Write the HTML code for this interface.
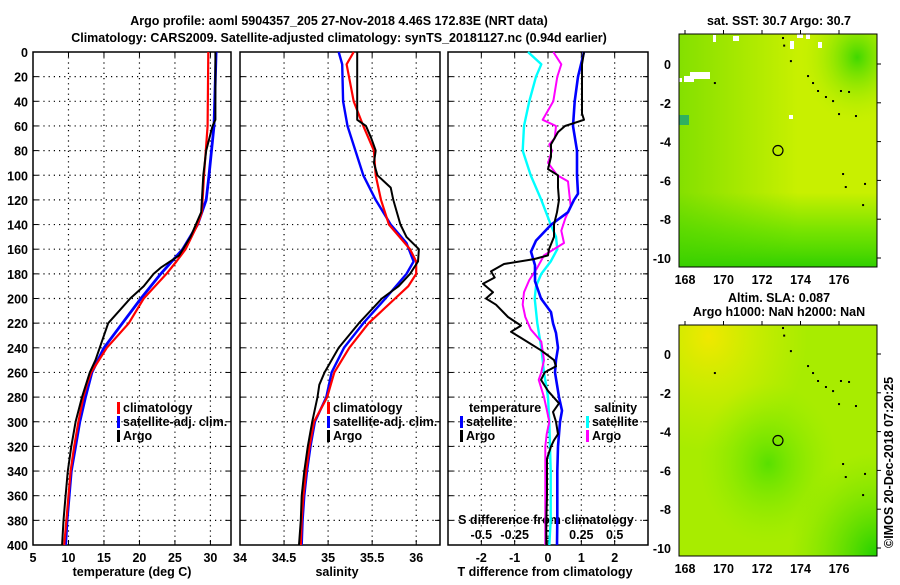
<!DOCTYPE html>
<html><head><meta charset="utf-8"><style>
body{margin:0;background:#fff;width:900px;height:580px;overflow:hidden;font-family:"Liberation Sans",sans-serif;}
svg text{font-family:"Liberation Sans",sans-serif;font-weight:bold;font-size:12.5px;fill:#000;}
</style></head><body>
<svg id="c" width="900" height="580" xmlns="http://www.w3.org/2000/svg">
<defs>
<linearGradient id="g1" x1="0" y1="0" x2="0" y2="1"><stop offset="0.68" stop-color="#60e000" stop-opacity="0"/><stop offset="0.85" stop-color="#60e000" stop-opacity="0.8"/><stop offset="1" stop-color="#30d000"/></linearGradient>
<radialGradient id="g2" cx="0.9" cy="0.1" r="0.3"><stop offset="0" stop-color="#40d800"/><stop offset="1" stop-color="#c8f000" stop-opacity="0"/></radialGradient>
<linearGradient id="g3" x1="0" y1="0" x2="1" y2="0"><stop offset="0" stop-color="#40d000" stop-opacity="0.5"/><stop offset="0.6" stop-color="#40d000" stop-opacity="0"/></linearGradient>
<radialGradient id="h1" cx="0.15" cy="0.05" r="0.5"><stop offset="0" stop-color="#f0e800"/><stop offset="1" stop-color="#d8f000" stop-opacity="0"/></radialGradient>
<radialGradient id="h2" cx="1" cy="1" r="0.45"><stop offset="0" stop-color="#20d000"/><stop offset="1" stop-color="#70e400" stop-opacity="0"/></radialGradient>
<radialGradient id="h3" cx="0.45" cy="0.6" r="0.35"><stop offset="0" stop-color="#58e000"/><stop offset="1" stop-color="#90ec00" stop-opacity="0"/></radialGradient>
</defs>
<g id="root"></g>
</svg>
<script>
// ---- data ----
const tDepthClim=[0,60,100,130,140,160,170,180,200,220,240,260,270,280,300,320,340,360,380,400];
const tClim=[29.7,29.6,29.1,28.8,28.2,26.5,25.2,23.8,20.6,18.5,15.4,13.2,12.6,12.1,11.4,10.8,10.3,10.0,9.7,9.4];
const tDepthSat=[0,60,100,120,140,160,180,200,220,240,260,280,300,320,340,360,380,400];
const tSat=[30.8,30.5,29.8,29.4,28.2,26.1,23.0,20.2,17.6,15.0,13.3,12.4,11.6,11.0,10.4,10.1,9.8,9.6];
const tDepthArgo=[0,55,60,80,100,130,150,165,175,180,190,200,220,240,250,260,280,300,320,340,360,380,400];
const tArgo=[30.7,30.7,30.3,29.4,29.0,28.7,27.2,25.6,23.0,22.0,20.6,18.7,15.6,14.4,13.8,13.0,11.9,11.0,10.4,9.9,9.6,9.3,9.1];

const sDepthClim=[0,10,40,60,80,100,120,140,160,170,180,190,200,220,240,260,280,300,320,340,360,380,400];
const sClim=[35.29,35.21,35.29,35.40,35.52,35.54,35.60,35.69,35.93,36.00,36.00,35.91,35.76,35.46,35.24,35.07,34.99,34.84,34.79,34.75,34.72,34.70,34.69];
const sDepthSat=[0,10,40,60,80,100,120,140,155,170,180,200,220,240,260,280,300,320,340,360,380,400];
const sSat=[35.12,35.16,35.17,35.22,35.31,35.40,35.54,35.71,35.89,35.97,35.89,35.65,35.40,35.18,35.04,34.98,34.85,34.80,34.76,34.73,34.71,34.70];
const sDepthArgo=[0,50,55,60,70,80,90,100,110,120,140,150,160,170,180,190,200,220,240,260,270,280,300,320,340,360,380,400];
const sArgo=[35.33,35.33,35.33,35.43,35.49,35.54,35.52,35.56,35.71,35.74,35.82,35.89,36.03,36.02,35.93,35.80,35.61,35.35,35.12,34.96,34.90,34.88,34.82,34.77,34.73,34.70,34.69,34.67];

const dTSatDepth=[0,20,40,60,80,100,115,120,130,140,153,162,173,186,200,211,220,228,240,250,260,270,280,291,300,320,340,360,380,400];
const dTSat=[1.08,0.9,0.8,0.75,0.87,0.87,0.9,0.78,0.6,0.1,-0.36,-0.51,-0.39,-0.39,-0.21,0.09,0.15,0.24,0.3,0.24,0.21,0.27,0.33,0.42,0.36,0.3,0.28,0.28,0.28,0.27];
const dTArgoDepth=[0,10,50,55,60,65,75,85,95,100,110,120,130,140,150,160,165,168,172,178,183,188,195,200,205,215,222,227,232,242,250,255,260,266,275,285,292,300,310,315,320,330,340,360,380,400];
const dTArgo=[1.08,1.02,1.02,1.08,0.51,0.3,0.09,0.09,0.0,0.3,0.3,0.33,0.27,0.18,0.18,0.03,0.0,-0.42,-1.32,-1.71,-1.6,-1.95,-1.65,-1.86,-1.56,-1.2,-0.81,-1.11,-0.81,-0.21,0.18,0.24,-0.1,-0.21,0.0,0.33,0.15,0.24,0.3,0.18,0.09,-0.03,-0.03,-0.03,-0.05,-0.05];
const dSSatDepth=[0,10,20,40,60,80,100,120,140,150,160,170,180,190,200,220,240,260,280,300,320,340,360,380,400];
const dSSat=[-0.15,-0.05,-0.09,-0.14,-0.18,-0.19,-0.13,-0.05,0.02,0.06,0.07,0.02,-0.05,-0.09,-0.1,-0.08,-0.05,-0.03,0.0,0.01,0.015,0.02,0.02,0.02,0.01];
const dSArgoDepth=[0,10,20,40,55,60,70,75,80,90,100,105,115,125,135,145,155,165,175,185,195,205,215,225,235,250,260,266,280,290,300,310,320,340,360,380,400];
const dSArgo=[0.04,0.1,0.07,0.04,-0.04,0.06,0.05,0.01,0.03,0.0,0.07,0.15,0.16,0.17,0.13,0.1,0.12,-0.03,-0.08,-0.14,-0.18,-0.19,-0.17,-0.13,-0.05,-0.03,-0.05,-0.07,-0.03,-0.01,0.01,-0.01,-0.02,-0.02,-0.02,-0.02,-0.02];

const depthTicks=[0,20,40,60,80,100,120,140,160,180,200,220,240,260,280,300,320,340,360,380,400];
const tTicks=[5,10,15,20,25,30];
const sTicks=[34,34.5,35,35.5,36];
const sTickLabels=["34","34.5","35","35.5","36"];
const dTTicks=[-2,-1,0,1,2];
const dSTicks=[-0.5,-0.25,0,0.25,0.5];
const dSTickLabels=["-0.5","-0.25","0","0.25","0.5"];
const lonTicks=[168,170,172,174,176];
const latTicks=[0,-2,-4,-6,-8,-10];
const argoLon=172.83, argoLat=-4.46;
const coastLon=[173.45,174.34,174.6,174.86,175.27,175.64,176.05,176.47,176.83,175.95,176.16,176.3,177.3,177.2,169.5,173.04,173.1];
const coastLat=[0.2,-0.57,-0.93,-1.34,-1.65,-1.86,-1.34,-1.39,-2.63,-2.53,-5.62,-6.29,-6.13,-7.22,-0.93,1.39,1.0];

// ---- helpers ----
const NS="http://www.w3.org/2000/svg";
const root=document.getElementById('root');
function el(tag,attrs,parent){const e=document.createElementNS(NS,tag);for(const k in attrs)e.setAttribute(k,attrs[k]);(parent||root).appendChild(e);return e;}
function txt(x,y,s,anchor,name,parent,extra){const t=el('text',Object.assign({x:x,y:y,'text-anchor':anchor||'start'},extra||{}),parent);t.textContent=s;return t;}

const PY0=52,PY1=545;
const yD=d=>PY0+(d/400)*(PY1-PY0);
const panels=[
 {x0:33,x1:231,v0:5,v1:32.9,name:'temperature-panel'},
 {x0:240,x1:440,v0:34,v1:36.27,name:'salinity-panel'},
 {x0:448,x1:648,v0:-3,v1:3,name:'difference-panel'}
];
function sx(p,v){return p.x0+(v-p.v0)/(p.v1-p.v0)*(p.x1-p.x0);}

txt(339,25,'Argo profile: aoml 5904357_205 27-Nov-2018 4.46S 172.83E (NRT data)','middle','title-line-1',null,{'font-size':'13.5px'});
txt(339,42,'Climatology: CARS2009. Satellite-adjusted climatology: synTS_20181127.nc (0.94d earlier)','middle','title-line-2',null,{'font-size':'13.5px'});

function frame(p,xt,xtl){
 const g=el('g',{});
 depthTicks.forEach(d=>{if(d>0&&d<400){const l=el('line',{x1:p.x0,x2:p.x1,y1:yD(d),y2:yD(d),stroke:'#000','stroke-width':1.2,'stroke-dasharray':'1.2,4'},g);}
   el('line',{x1:p.x0,x2:p.x0+5,y1:yD(d),y2:yD(d),stroke:'#000'},g);el('line',{x1:p.x1,x2:p.x1-5,y1:yD(d),y2:yD(d),stroke:'#000'},g);});
 xt.forEach((v,i)=>{const x=sx(p,v);if(x>p.x0+1&&x<p.x1-1){const l=el('line',{x1:x,x2:x,y1:PY0,y2:PY1,stroke:'#000','stroke-width':1.2,'stroke-dasharray':'1.2,4'},g);}
   el('line',{x1:x,x2:x,y1:PY1,y2:PY1-5,stroke:'#000'},g);el('line',{x1:x,x2:x,y1:PY0,y2:PY0+5,stroke:'#000'},g);
   if(xtl)txt(x,562,xtl[i],'middle','x-tick-label',g);});
 const r=el('rect',{x:p.x0,y:PY0,width:p.x1-p.x0,height:PY1-PY0,fill:'none',stroke:'#000','stroke-width':1.5},g);
 
 return g;
}
function line(p,vals,depths,color,w,name,scale){
 const pts=vals.map((v,i)=>sx(p,v*(scale||1)).toFixed(1)+','+yD(depths[i]).toFixed(1)).join(' ');
 const l=el('polyline',{points:pts,fill:'none',stroke:color,'stroke-width':w,'stroke-linejoin':'round'});
 
}
function legend(x,y,color,label,name){
 const g=el('g',{});
 el('rect',{x:x,y:y-10,width:3,height:12,fill:color},g);
 txt(x+6,y,label,'start','legend-label',g);
}

const p1=panels[0];
frame(p1,tTicks,tTicks.map(String));
depthTicks.forEach(d=>txt(28,yD(d)+5,String(d),'end','y-tick-label'));
txt(132,576,'temperature (deg C)','middle','x-axis-title');
line(p1,tSat,tDepthSat,'#0000ff',2.8,'temperature-satellite-line');
line(p1,tClim,tDepthClim,'#ff0000',2.2,'temperature-climatology-line');
line(p1,tArgo,tDepthArgo,'#000',2,'temperature-argo-line');
legend(117,412,'#ff0000','climatology','legend-climatology');
legend(117,426,'#0000ff','satellite-adj. clim.','legend-satellite');
legend(117,440,'#000','Argo','legend-argo');

const p2=panels[1];
frame(p2,sTicks,sTickLabels);
txt(337,576,'salinity','middle','x-axis-title');
line(p2,sSat,sDepthSat,'#0000ff',2.4,'salinity-satellite-line');
line(p2,sClim,sDepthClim,'#ff0000',2.2,'salinity-climatology-line');
line(p2,sArgo,sDepthArgo,'#000',2,'salinity-argo-line');
legend(327,412,'#ff0000','climatology','legend-climatology');
legend(327,426,'#0000ff','satellite-adj. clim.','legend-satellite');
legend(327,440,'#000','Argo','legend-argo');

const p3=panels[2];
frame(p3,dTTicks,null);
dTTicks.forEach(v=>txt(sx(p3,v),562,String(v),'middle','t-diff-tick-label'));
dSTicks.forEach((v,i)=>txt(sx(p3,v*4),539,dSTickLabels[i],'middle','s-diff-tick-label'));
txt(546,524,'S difference from climatology','middle','s-diff-axis-title');
txt(545,576,'T difference from climatology','middle','x-axis-title');
line(p3,dSSat,dSSatDepth,'#00ffff',2.4,'s-diff-satellite-line',4);
line(p3,dSArgo,dSArgoDepth,'#ff00ff',2,'s-diff-argo-line',4);
line(p3,dTSat,dTSatDepth,'#0000ff',2.6,'t-diff-satellite-line');
line(p3,dTArgo,dTArgoDepth,'#000',2,'t-diff-argo-line');
txt(469,412,'temperature','start','legend-heading-temperature');
legend(460,426,'#0000ff','satellite','legend-t-satellite');
legend(460,440,'#000','Argo','legend-t-argo');
txt(594,412,'salinity','start','legend-heading-salinity');
legend(586,426,'#00ffff','satellite','legend-s-satellite');
legend(586,440,'#ff00ff','Argo','legend-s-argo');

function map(y0,y1,lat0,latPxPerDeg,bg,fills,name,t1,t2,t1y,t2y){
 const x0=679,x1=877;
 const lx=v=>685+(v-168)*19.25, ly=v=>lat0-v*latPxPerDeg;
 const g=el('g',{});
 el('rect',{x:x0,y:y0,width:x1-x0,height:y1-y0,fill:bg},g);
 fills.forEach(f=>el('rect',{x:x0,y:y0,width:x1-x0,height:y1-y0,fill:'url(#'+f+')'},g));
 if(name==='sst-map'){[[690,72,20,7],[684,76,10,6],[679,78,3,4],[713,35,3,7],[733,36,6,5],[797,33,6,5],[806,33,4,6],[818,42,4,6],[790,41,4,8],[789,115,4,4]].forEach(r=>el('rect',{x:r[0],y:r[1],width:r[2],height:r[3],fill:'#fff'},g));
   el('rect',{x:679,y:115,width:10,height:10,fill:'#30b060'},g);}
 coastLon.forEach((v,i)=>{const yy=ly(coastLat[i]);if(yy>y0&&yy<y1){const d=el('rect',{x:lx(v),y:yy,width:2,height:2,fill:'#000'},g);}});
 const c=el('circle',{cx:lx(argoLon),cy:ly(argoLat),r:5,fill:'none',stroke:'#000','stroke-width':1.2},g);
 
 el('rect',{x:x0,y:y0,width:x1-x0,height:y1-y0,fill:'none',stroke:'#000','stroke-width':1},g);
 lonTicks.forEach(v=>{const x=lx(v);el('line',{x1:x,x2:x,y1:y0,y2:y0-4,stroke:'#000'},g);txt(x,y1+17,String(v),'middle','lon-tick-label',g);});
 latTicks.forEach(v=>{const y=ly(v);el('line',{x1:x1,x2:x1+4,y1:y,y2:y,stroke:'#000'},g);txt(x0-8,y+5,String(v),'end','lat-tick-label',g);});
 txt(779,t1y,t1,'middle','map-title',g);
 if(t2)txt(779,t2y,t2,'middle','map-subtitle',g);
}
map(34,267,64,19.4,'#c8f000',['g1','g3','g2'],'sst-map','sat. SST: 30.7 Argo: 30.7',null,25);
map(325,556,354,19.4,'#a8ec00',['h1','h3','h2'],'sla-map','Altim. SLA: 0.087','Argo h1000: NaN h2000: NaN',302,316);
txt(0,0,'©IMOS 20-Dec-2018 07:20:25','start','copyright-note',null,{transform:'translate(893,548) rotate(-90)','font-weight':'normal','font-size':'12px'});
</script>
</body></html>
